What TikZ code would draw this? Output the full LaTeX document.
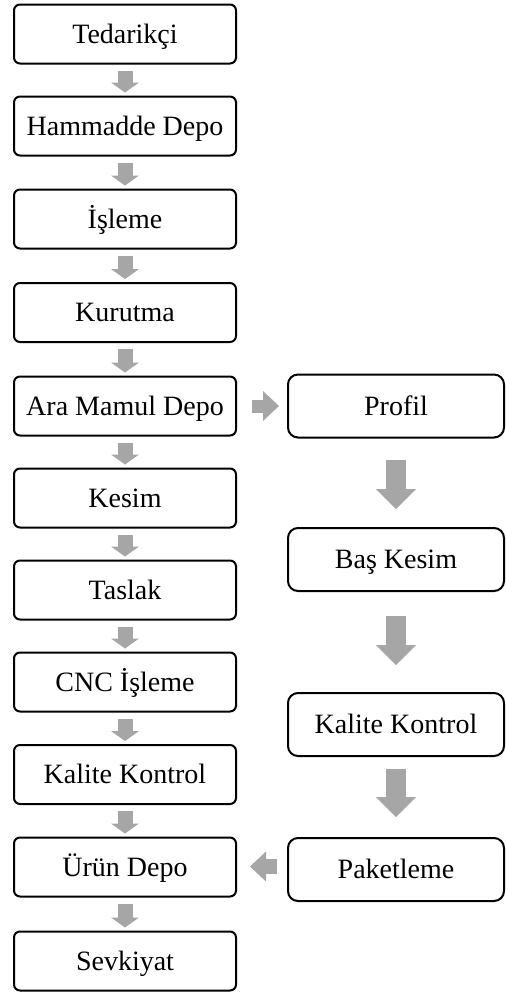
\documentclass[tikz,border=0pt]{standalone}
\usepackage{fontspec}
\setmainfont{Liberation Serif}
\usepackage{tikz}
\usetikzlibrary{arrows.meta,positioning}
\definecolor{flowgray}{HTML}{A6A6A6}

\begin{document}
\begin{tikzpicture}[x=1pt,y=-1pt,
  lbox/.style={draw=black, line width=2pt, rounded corners=6pt, fill=white,
               minimum width=222pt, minimum height=59pt, inner sep=0pt,
               text height=18.5pt, text depth=0pt,
               font=\fontsize{28}{32}\selectfont},
  rbox/.style={lbox, rounded corners=10pt, minimum width=216pt, minimum height=63pt},
  down/.style={-{Triangle[width=28pt,length=10pt,line width=0pt]},
               draw=flowgray, line width=15pt, shorten <=6pt, shorten >=3pt},
  bigdown/.style={-{Triangle[width=40pt,length=20pt,line width=0pt]},
               draw=flowgray, line width=20pt},
  side/.style={-{Triangle[width=30pt,length=16pt,line width=0pt]},
               draw=flowgray, line width=13pt}
]
  \useasboundingbox (0,0) rectangle (506,996);

  % main line
  \node[lbox] (ted)  at (125,34)    {Tedarikçi};
  \node[lbox] (ham)  at (125,126)   {Hammadde Depo};
  \node[lbox] (isl)  at (125,219)   {İşleme};
  \node[lbox] (kur)  at (125,312.5) {Kurutma};
  \node[lbox] (ara)  at (125,406)   {Ara Mamul Depo};
  \node[lbox] (kes)  at (125,498)   {Kesim};
  \node[lbox] (tas)  at (125,590)   {Taslak};
  \node[lbox] (cnc)  at (125,682)   {CNC İşleme};
  \node[lbox] (kal)  at (125,774.5) {Kalite Kontrol};
  \node[lbox] (urun) at (125,867)   {Ürün Depo};
  \node[lbox] (sev)  at (125,961)   {Sevkiyat};

  % profile line
  \node[rbox] (pro)  at (396,406)   {Profil};
  \node[rbox] (bas)  at (396,559.5) {Baş Kesim};
  \node[rbox] (rkal) at (396,724.5) {Kalite Kontrol};
  \node[rbox] (pak)  at (396,869.5) {Paketleme};

  \draw[down] (ted) -- (ham);
  \draw[down] (ham) -- (isl);
  \draw[down] (isl) -- (kur);
  \draw[down] (kur) -- (ara);
  \draw[down] (ara) -- (kes);
  \draw[down] (kes) -- (tas);
  \draw[down] (tas) -- (cnc);
  \draw[down] (cnc) -- (kal);
  \draw[down] (kal) -- (urun);
  \draw[down] (urun) -- (sev);

  \draw[side, shorten <=15pt, shorten >=8pt] (ara.east) -- (pro.west);
  \draw[bigdown, shorten <=21pt, shorten >=18pt] (pro) -- (bas);
  \draw[bigdown, shorten <=24pt, shorten >=27pt] (bas) -- (rkal);
  \draw[bigdown, shorten <=12pt, shorten >=20pt] (rkal) -- (pak);
  \draw[side, line width=15pt, shorten <=10pt, shorten >=13pt]
    ([yshift=3pt]pak.west) -- ([yshift=3pt]pak.west -| urun.east);
\end{tikzpicture}
\end{document}
